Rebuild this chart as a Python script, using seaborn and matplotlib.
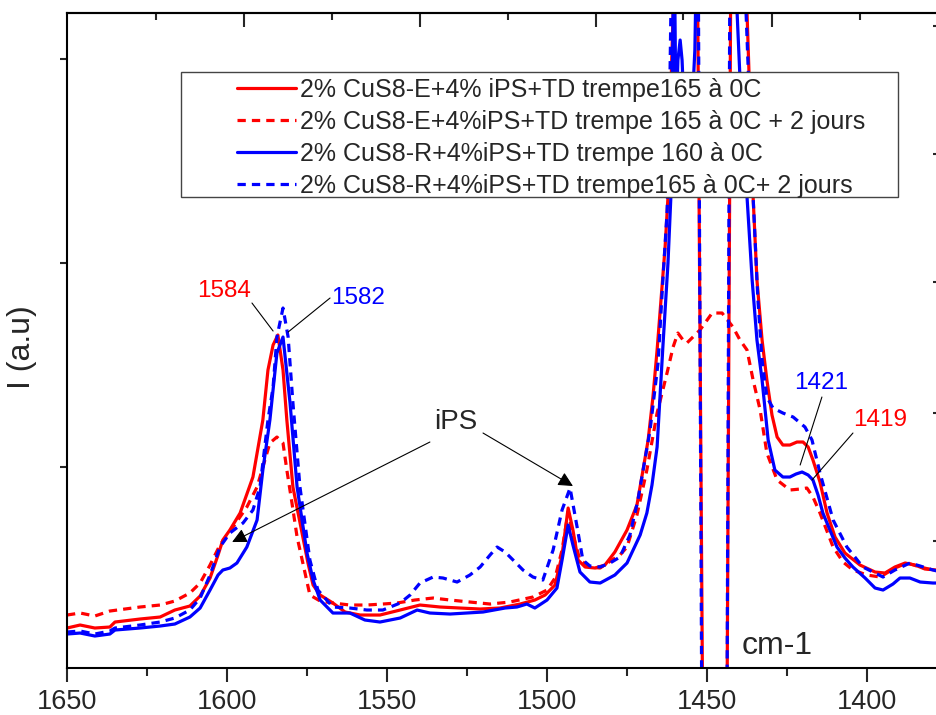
import numpy as np
import pandas as pd
import seaborn as sns
import matplotlib.pyplot as plt
from matplotlib.patches import Rectangle

# Raman spectra (wavenumber in cm-1, intensity in a.u.)
wn_e = [1650.0, 1645.9, 1641.3, 1636.6, 1635.0, 1627.2, 1620.9, 1616.3, 1611.6, 1608.4,
        1605.3, 1602.8, 1601.3, 1599.1, 1595.9, 1591.9, 1588.8, 1587.2, 1585.6, 1584.1,
        1582.5, 1581.3, 1579.4, 1576.3, 1574.7, 1573.1, 1570.9, 1566.9, 1563.1, 1558.4,
        1552.2, 1545.9, 1539.7, 1533.4, 1527.2, 1520.9, 1514.7, 1508.4, 1503.8, 1500.6,
        1497.5, 1495.3, 1493.4, 1491.9, 1490.3, 1488.1, 1485.0, 1481.9, 1478.8, 1475.0,
        1471.9, 1470.0, 1468.4, 1466.9, 1465.6, 1464.7, 1463.1, 1462.2, 1461.3, 1460.6,
        1460.0, 1453.1, 1451.3, 1443.8, 1442.5, 1438.4, 1437.5, 1435.6, 1434.4, 1432.8,
        1431.3, 1429.7, 1428.1, 1426.3, 1424.1, 1421.9, 1420.0, 1418.4, 1416.9, 1414.7,
        1412.5, 1410.0, 1406.9, 1402.2, 1397.5, 1394.4, 1391.3, 1388.1, 1385.0, 1381.9,
        1378.1]
i_e = [0.40, 0.43, 0.40, 0.41, 0.46, 0.49, 0.51, 0.58, 0.62, 0.72,
       0.90, 1.13, 1.28, 1.38, 1.55, 1.91, 2.48, 2.98, 3.23, 3.33,
       2.98, 2.48, 1.81, 1.31, 1.05, 0.83, 0.73, 0.65, 0.56, 0.53,
       0.53, 0.58, 0.63, 0.61, 0.60, 0.59, 0.60, 0.64, 0.68, 0.73,
       0.83, 1.13, 1.60, 1.38, 1.08, 1.01, 1.00, 1.03, 1.16, 1.38,
       1.63, 1.98, 2.28, 2.71, 3.18, 3.55, 4.21, 4.71, 5.78, 6.55,
       7.48, 7.48, -0.72, -0.72, 7.48, 7.48, 6.55, 4.71, 3.88, 3.28,
       2.88, 2.53, 2.31, 2.23, 2.23, 2.26, 2.26, 2.21, 2.08, 1.86,
       1.55, 1.31, 1.15, 1.03, 0.96, 0.95, 1.01, 1.05, 1.03, 0.99,
       0.98]

wn_e2 = [1650.0, 1645.9, 1641.3, 1636.6, 1627.2, 1620.9, 1616.3, 1611.6, 1608.4, 1605.3,
         1602.2, 1598.1, 1593.8, 1590.6, 1588.8, 1586.6, 1584.4, 1582.5, 1581.3, 1579.7,
         1578.1, 1576.3, 1574.1, 1570.9, 1566.9, 1561.6, 1556.3, 1551.3, 1546.9, 1541.3,
         1535.6, 1530.3, 1524.1, 1517.8, 1511.6, 1504.4, 1500.0, 1497.5, 1495.3, 1493.4,
         1491.9, 1489.7, 1486.6, 1483.4, 1479.7, 1477.2, 1475.0, 1471.9, 1468.8, 1465.6,
         1462.5, 1460.6, 1459.1, 1457.5, 1456.3, 1454.4, 1452.2, 1448.4, 1445.3, 1441.9,
         1439.7, 1437.5, 1435.6, 1433.4, 1431.3, 1428.1, 1424.1, 1420.9, 1418.8, 1416.9,
         1414.7, 1410.6, 1407.5, 1404.4, 1400.0, 1395.9, 1391.3, 1387.5, 1383.4, 1379.4,
         1378.1]
i_e2 = [0.53, 0.55, 0.52, 0.57, 0.61, 0.63, 0.67, 0.75, 0.85, 1.03,
        1.23, 1.41, 1.61, 1.81, 2.01, 2.25, 2.31, 2.25, 1.98, 1.65,
        1.31, 1.05, 0.73, 0.67, 0.65, 0.63, 0.63, 0.64, 0.65, 0.68,
        0.70, 0.68, 0.66, 0.64, 0.66, 0.71, 0.78, 0.90, 1.18, 1.56,
        1.33, 1.08, 1.01, 1.00, 1.08, 1.13, 1.21, 1.53, 1.98, 2.55,
        2.95, 3.21, 3.35, 3.28, 3.25, 3.31, 3.38, 3.55, 3.55, 3.41,
        3.28, 3.18, 2.88, 2.58, 2.15, 1.88, 1.78, 1.79, 1.80, 1.71,
        1.55, 1.21, 1.06, 0.98, 0.93, 0.91, 1.00, 1.05, 1.01, 0.98,
        0.97]

wn_r = [1650.0, 1645.9, 1641.3, 1636.6, 1635.0, 1627.2, 1620.9, 1616.3, 1611.6, 1608.4,
        1605.3, 1602.8, 1601.3, 1599.1, 1596.9, 1593.8, 1590.6, 1588.8, 1586.6, 1584.4,
        1582.5, 1580.3, 1578.1, 1575.0, 1573.1, 1570.9, 1566.9, 1561.6, 1556.9, 1552.2,
        1545.9, 1540.6, 1536.6, 1530.3, 1520.0, 1513.1, 1509.4, 1506.3, 1503.8, 1500.0,
        1496.9, 1495.3, 1493.4, 1491.9, 1489.7, 1486.6, 1483.4, 1478.8, 1475.0, 1470.9,
        1468.8, 1467.2, 1465.6, 1463.8, 1462.2, 1461.3, 1460.6, 1460.3, 1459.7, 1459.1,
        1458.4, 1457.8, 1456.9, 1455.3, 1453.8, 1453.1, 1441.3, 1440.6, 1439.4, 1437.5,
        1435.9, 1434.4, 1432.8, 1430.9, 1428.8, 1426.3, 1424.1, 1422.2, 1420.3, 1418.4,
        1416.9, 1415.3, 1413.8, 1411.6, 1409.4, 1406.9, 1404.4, 1400.6, 1397.5, 1395.0,
        1391.9, 1389.7, 1386.6, 1383.4, 1379.4, 1378.1]
i_r = [0.34, 0.35, 0.32, 0.34, 0.38, 0.40, 0.42, 0.44, 0.51, 0.60,
       0.78, 0.93, 0.98, 1.00, 1.05, 1.21, 1.48, 1.98, 2.48, 3.15,
       3.31, 2.65, 1.81, 1.15, 0.88, 0.68, 0.55, 0.55, 0.48, 0.46,
       0.50, 0.58, 0.55, 0.54, 0.56, 0.60, 0.61, 0.64, 0.60, 0.68,
       0.80, 1.08, 1.43, 1.23, 0.96, 0.86, 0.85, 0.93, 1.05, 1.33,
       1.55, 1.83, 2.21, 3.21, 4.05, 4.71, 6.55, 7.48, 5.48, 6.08,
       6.28, 6.08, 5.38, 5.18, 6.18, 7.48, 7.48, 6.55, 5.68, 4.71,
       3.88, 3.28, 2.88, 2.28, 1.98, 1.91, 1.91, 1.94, 1.96, 1.93,
       1.88, 1.73, 1.55, 1.38, 1.21, 1.10, 1.01, 0.90, 0.80, 0.78,
       0.84, 0.90, 0.90, 0.86, 0.85, 0.85]

wn_r2 = [1650.0, 1645.9, 1641.3, 1636.6, 1635.0, 1627.2, 1620.9, 1616.3, 1611.6, 1608.4,
         1605.3, 1602.2, 1599.1, 1595.0, 1591.9, 1589.7, 1588.8, 1587.2, 1585.6, 1584.4,
         1582.5, 1580.9, 1579.4, 1577.2, 1574.1, 1571.6, 1566.9, 1561.6, 1556.3, 1551.3,
         1545.9, 1542.8, 1539.7, 1535.6, 1532.5, 1528.1, 1524.1, 1520.9, 1517.8, 1515.6,
         1513.1, 1510.6, 1507.5, 1504.4, 1501.3, 1498.1, 1495.3, 1492.8, 1490.6, 1488.8,
         1486.6, 1483.4, 1480.3, 1477.2, 1474.1, 1471.6, 1467.8, 1465.3, 1463.8, 1462.5,
         1461.9, 1461.3, 1460.6, 1452.8, 1451.6, 1443.8, 1442.8, 1438.4, 1437.8, 1435.6,
         1434.1, 1432.8, 1431.3, 1429.4, 1426.3, 1423.1, 1419.4, 1417.2, 1414.7, 1410.6,
         1406.3, 1401.3, 1395.0, 1391.3, 1386.6, 1383.4, 1379.4, 1378.1]
i_r2 = [0.36, 0.37, 0.34, 0.37, 0.40, 0.43, 0.46, 0.50, 0.58, 0.70,
        0.93, 1.21, 1.35, 1.45, 1.58, 1.81, 2.05, 2.48, 2.81, 3.31,
        3.60, 3.31, 2.65, 1.81, 1.08, 0.78, 0.61, 0.60, 0.58, 0.58,
        0.65, 0.73, 0.85, 0.91, 0.90, 0.86, 0.93, 1.01, 1.13, 1.21,
        1.16, 1.08, 0.98, 0.91, 0.88, 1.18, 1.58, 1.80, 1.41, 1.08,
        1.02, 1.01, 1.05, 1.11, 1.33, 1.68, 2.38, 3.05, 3.88, 4.55,
        5.18, 6.55, 7.48, 7.48, -0.72, -0.72, 7.48, 7.48, 6.55, 4.71,
        3.68, 3.08, 2.71, 2.60, 2.55, 2.51, 2.41, 2.28, 1.95, 1.48,
        1.21, 1.01, 0.91, 0.98, 1.05, 1.02, 0.98, 0.97]

labels = ["2% CuS8-E+4% iPS+TD trempe165 à 0C",
          "2% CuS8-E+4%iPS+TD trempe 165 à 0C + 2 jours",
          "2% CuS8-R+4%iPS+TD trempe 160 à 0C",
          "2% CuS8-R+4%iPS+TD trempe165 à 0C+ 2 jours"]

sns.set_style("ticks")
plt.rcParams['font.family'] = ['Liberation Sans', 'DejaVu Sans']

fig = plt.figure(figsize=(9.37, 7.15), dpi=100)
ax = fig.add_axes([0.0715, 0.0657, 0.9317, 0.9161])

dash = (0, (2.6, 1.9))
series = [(wn_e, i_e, 'red', '-'), (wn_e2, i_e2, 'red', dash),
          (wn_r, i_r, 'blue', '-'), (wn_r2, i_r2, 'blue', dash)]
for (x, y, c, ls), lab in zip(series, labels):
    sns.lineplot(x=x, y=y, ax=ax, color=c, linestyle=ls, lw=2.3,
                 sort=False, estimator=None, label=lab)

ax.set_xlim(1650, 1377.2)
ax.set_ylim(0, 6.55)
ax.set_xticks([1650, 1600, 1550, 1500, 1450, 1400])
ax.set_xticks([1625, 1575, 1525, 1475, 1425], minor=True)
ax.set_yticks([2.01, 4.05, 6.09])
ax.tick_params(axis='x', which='major', direction='out', length=10, width=1.5,
               labelsize=19.5, pad=5, top=False)
ax.tick_params(axis='x', which='minor', direction='out', length=6, width=1.5, top=False)
ax.tick_params(axis='y', direction='out', length=5, width=1.5, labelleft=False, right=False)
ax.set_xlabel('')
for sp in ax.spines.values():
    sp.set_linewidth(1.5)
    sp.set_color('black')

# extra frame ticks (different spacing on top / right)
top = ax.secondary_xaxis('top')
top.set_xticks([1594.7, 1539.7, 1484.7, 1429.7], labels=[])
top.set_xticks([1622.2, 1567.2, 1512.2, 1457.5, 1402.2], minor=True)
top.tick_params(which='major', direction='in', length=10, width=1.5)
top.tick_params(which='minor', direction='in', length=5, width=1.5)
top.spines['top'].set_linewidth(1.5)
right = ax.secondary_yaxis('right')
right.set_yticks([1.27, 2.55, 3.86, 5.14, 6.42], labels=[])
right.tick_params(direction='in', length=5, width=1.5)

ax.set_ylabel('I (a.u)', fontsize=23)
ax.yaxis.set_label_coords(-0.034, 0.49)

# legend with a white box behind it
ax.add_patch(Rectangle((181 / 937, 1 - 197 / 715), 717 / 937, 125 / 715,
                       transform=fig.transFigure, facecolor='white',
                       edgecolor='#444444', lw=1.0, zorder=4, clip_on=False))
ax.legend(loc='upper left', bbox_to_anchor=(237 / 937, 1 - 78 / 715),
          bbox_transform=fig.transFigure, frameon=False, fontsize=18,
          handlelength=2.36, handletextpad=0.16, labelspacing=0.32,
          borderpad=0, borderaxespad=0)

# peak labels
line_kw = dict(arrowstyle='-', color='black', lw=0.8, shrinkA=0, shrinkB=0)
ax.annotate('', xy=(1585.6, 3.37), xytext=(1592.2, 3.65), arrowprops=line_kw)
ax.text(1600.9, 3.77, '1584', color='red', fontsize=17.5, ha='center', va='center')
ax.annotate('', xy=(1580.9, 3.36), xytext=(1567.8, 3.70), arrowprops=line_kw)
ax.text(1559.1, 3.70, '1582', color='blue', fontsize=17.5, ha='center', va='center')
ax.annotate('', xy=(1420.9, 2.03), xytext=(1414.1, 2.71), arrowprops=line_kw)
ax.text(1414.4, 2.85, '1421', color='blue', fontsize=17.5, ha='center', va='center')
ax.annotate('', xy=(1417.2, 1.88), xytext=(1404.4, 2.35), arrowprops=line_kw)
ax.text(1395.9, 2.48, '1419', color='red', fontsize=17.5, ha='center', va='center')

arrow_kw = dict(arrowstyle='-|>', color='black', lw=0.8, mutation_scale=22,
                shrinkA=0, shrinkB=0)
ax.annotate('', xy=(1598.4, 1.26), xytext=(1536.6, 2.26), arrowprops=arrow_kw)
ax.annotate('', xy=(1491.9, 1.82), xytext=(1520.0, 2.35), arrowprops=arrow_kw)
ax.text(1528.4, 2.46, 'iPS', fontsize=20, ha='center', va='center')
ax.text(1428.1, 0.22, 'cm-1', fontsize=23, ha='center', va='center')

fig.savefig('out.png', dpi=100)
